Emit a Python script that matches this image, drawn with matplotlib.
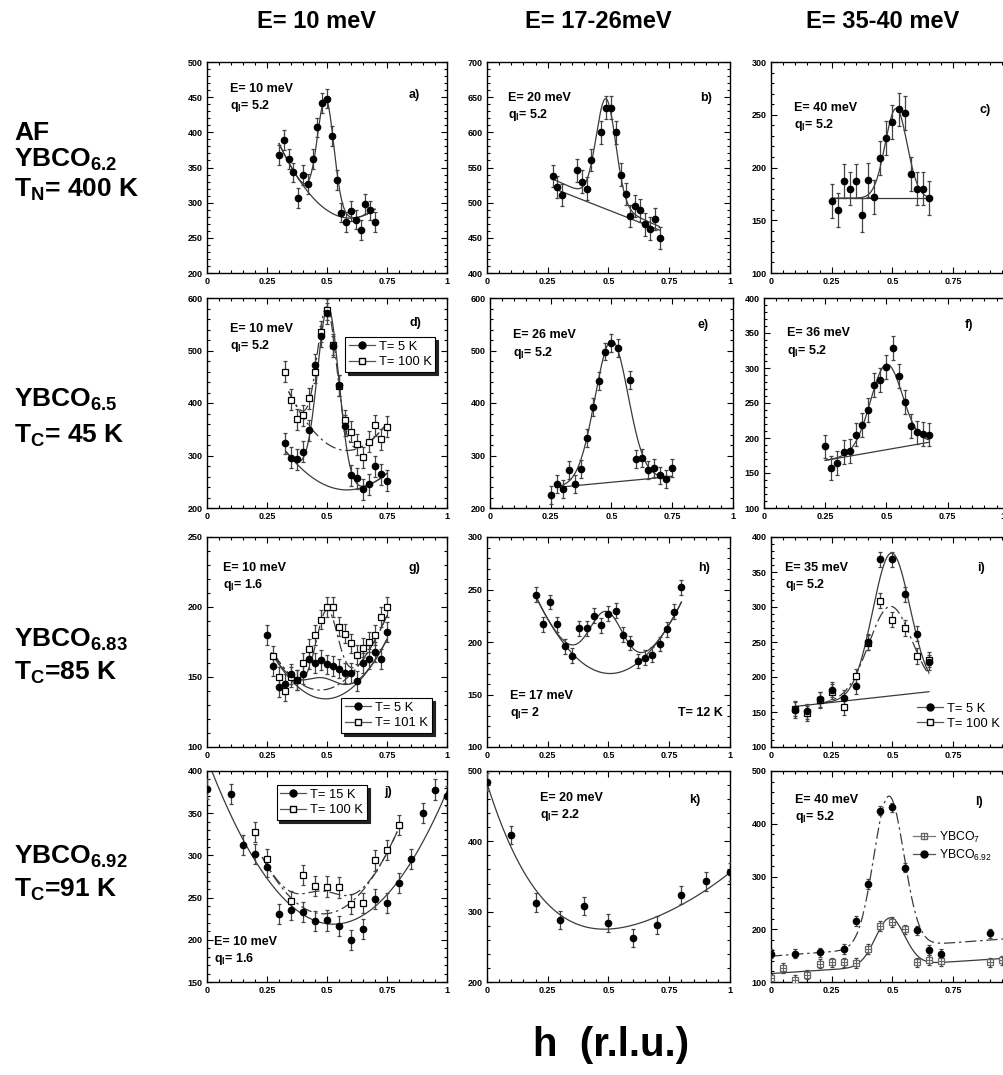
import numpy as np
import matplotlib.pyplot as plt
from matplotlib.lines import Line2D
from matplotlib.ticker import MultipleLocator, FixedLocator, FixedFormatter

plt.rcParams['font.family'] = ['Liberation Sans', 'DejaVu Sans']
plt.rcParams['mathtext.default'] = 'regular'

# ---------------- data ----------------
# a) AF YBCO6.2, E=10 meV
a_h = [0.30, 0.32, 0.34, 0.36, 0.38, 0.40, 0.42, 0.44, 0.46, 0.48, 0.50,
       0.52, 0.54, 0.56, 0.58, 0.60, 0.62, 0.64, 0.66, 0.68, 0.70]
a_I = [368, 389, 362, 343, 307, 339, 327, 362, 407, 442, 448,
       395, 332, 286, 273, 288, 276, 261, 298, 289, 273]
a_err = 14
a_bg = ([0.30, 0.41, 0.60], [384, 320, 278])
a_peak = (0.495, 158, 0.034)

# b) AF YBCO6.2, E=20 meV
b_h = [0.27, 0.29, 0.31, 0.37, 0.39, 0.41, 0.43, 0.47, 0.49, 0.51,
       0.53, 0.55, 0.57, 0.59, 0.61, 0.63, 0.65, 0.67, 0.69, 0.71]
b_I = [538, 522, 511, 546, 530, 520, 561, 600, 635, 635,
       600, 540, 512, 481, 495, 489, 469, 463, 477, 450]
b_err = 16
b_fitbase = ([0.28, 0.71], [532, 466])
b_bg = ([0.29, 0.71], [518, 461])
b_peak = (0.49, 148, 0.04)

# c) AF YBCO6.2, E=40 meV
c_h = [0.25, 0.275, 0.30, 0.325, 0.35, 0.375, 0.40, 0.425, 0.45,
       0.475, 0.50, 0.525, 0.55, 0.575, 0.60, 0.625, 0.65]
c_I = [168, 160, 187, 180, 187, 155, 188, 172, 209,
       228, 243, 255, 252, 194, 180, 180, 171]
c_err = 16
c_bg = ([0.25, 0.65], [171, 171])
c_peak = (0.515, 85, 0.045)

# d) YBCO6.5, E=10 meV, T=5 K and T=100 K
d_h = [0.325, 0.35, 0.375, 0.40, 0.425, 0.45, 0.475, 0.50, 0.525,
       0.55, 0.575, 0.60, 0.625, 0.65, 0.675, 0.70, 0.725, 0.75]
d_I5 = [323, 296, 293, 307, 348, 473, 527, 571, 508,
        434, 357, 262, 257, 236, 245, 280, 264, 252]
d_I100 = [460, 406, 369, 377, 409, 459, 536, 578, 511,
          433, 367, 345, 321, 297, 326, 358, 331, 355]
d_err = 20
d_bg5 = ([0.33, 0.62, 0.75], [307, 236, 266])
d_peak5 = (0.505, 341, 0.045)
d_bg100 = ([0.342, 0.568, 0.733], [420, 310, 352])
d_peak100 = (0.50, 260, 0.04)

# e) YBCO6.5, E=26 meV
e_h = [0.25, 0.275, 0.30, 0.325, 0.35, 0.375, 0.40, 0.425, 0.45, 0.475,
       0.50, 0.525, 0.575, 0.60, 0.625, 0.65, 0.675, 0.70, 0.725, 0.75]
e_I = [225, 246, 237, 273, 246, 274, 333, 392, 442, 498,
       514, 505, 444, 294, 296, 272, 276, 262, 255, 277]
e_err = 17
e_bg = ([0.27, 0.75], [239, 260])
e_peak = (0.50, 270, 0.068)

# f) YBCO6.5, E=36 meV
f_h = [0.25, 0.275, 0.30, 0.325, 0.35, 0.375, 0.40, 0.425, 0.45,
       0.475, 0.50, 0.525, 0.55, 0.575, 0.60, 0.625, 0.65, 0.675]
f_I = [188, 157, 164, 180, 182, 205, 219, 240, 276,
       283, 302, 329, 289, 252, 217, 208, 206, 205]
f_err = 17
f_bg = ([0.25, 0.675], [168, 194])
f_peak = (0.50, 122, 0.065)

# g) YBCO6.83, E=10 meV, T=5 K and T=101 K
g_h5 = [0.25, 0.275, 0.30, 0.325, 0.35, 0.375, 0.40, 0.425, 0.45, 0.475, 0.50,
        0.525, 0.55, 0.575, 0.60, 0.625, 0.65, 0.675, 0.70, 0.725, 0.75]
g_I5 = [180, 158, 143, 145, 152, 148, 152, 163, 160, 162, 159,
        158, 156, 153, 153, 147, 160, 163, 168, 163, 182]
g_h101 = [0.275, 0.30, 0.325, 0.35, 0.375, 0.40, 0.425, 0.45, 0.475, 0.50,
          0.525, 0.55, 0.575, 0.60, 0.625, 0.65, 0.675, 0.70, 0.725, 0.75]
g_I101 = [165, 150, 140, 150, 148, 160, 170, 180, 191, 200,
          200, 186, 181, 174, 166, 171, 175, 180, 193, 200]
g_err = 7
g_bg5 = ([0.27, 0.48, 0.75], [167, 134.5, 177])
g_peak5 = (0.48, 15, 0.07)
g_bg101 = ([0.28, 0.45, 0.72], [166, 141, 183])
g_peak101 = (0.50, 57, 0.045)

# h) YBCO6.83, E=17 meV
h_h = [0.20, 0.23, 0.26, 0.29, 0.32, 0.35, 0.38, 0.41, 0.44, 0.47, 0.50,
       0.53, 0.56, 0.59, 0.62, 0.65, 0.68, 0.71, 0.74, 0.77, 0.80]
h_I = [245, 217, 238, 217, 196, 187, 213, 213, 225, 216, 227,
       230, 207, 199, 182, 185, 188, 198, 212, 229, 252]
h_err = 7
h_bg = ([0.20, 0.50, 0.80], [244, 170, 238])
h_peak = (0.49, 59, 0.07)

# i) YBCO6.83, E=35 meV, T=5 K and T=100 K
i_h = [0.10, 0.15, 0.20, 0.25, 0.30, 0.35, 0.40, 0.45, 0.50, 0.55, 0.60, 0.65]
i_I5 = [153, 151, 168, 182, 170, 187, 250, 368, 368, 318, 262, 221]
i_I100 = [155, 148, 167, 179, 157, 201, 249, 309, 282, 270, 230, 225]
i_err = 11
i_bg = ([0.10, 0.65], [158, 179])
i_peak5 = (0.495, 204, 0.077)
i_peak100 = (0.49, 128, 0.088)

# j) YBCO6.92, E=10 meV, T=15 K and T=100 K
j_h15 = [0.0, 0.10, 0.15, 0.20, 0.25, 0.30, 0.35, 0.40, 0.45, 0.50,
         0.55, 0.60, 0.65, 0.70, 0.75, 0.80, 0.85, 0.90, 0.95, 1.00]
j_I15 = [379, 373, 312, 302, 286, 231, 235, 233, 222, 223,
         216, 200, 213, 248, 244, 267, 296, 350, 378, 370]
j_h100 = [0.20, 0.25, 0.35, 0.40, 0.45, 0.50, 0.55, 0.60, 0.65, 0.70, 0.75, 0.80]
j_I100 = [328, 296, 246, 277, 264, 263, 262, 242, 244, 294, 306, 336]
j_err = 12
j_fit15 = ([0.02, 0.50, 1.00], [400, 219, 376])
j_bg100 = ([0.23, 0.50, 0.80], [298, 231, 333])
j_peak100 = (0.48, 27, 0.08)

# k) YBCO6.92, E=20 meV
k_h = [0.0, 0.1, 0.2, 0.3, 0.4, 0.5, 0.6, 0.7, 0.8, 0.9, 1.0]
k_I = [484, 409, 313, 288, 308, 284, 263, 281, 324, 343, 356]
k_err = 13
k_fit = ([0.0, 0.1, 0.2, 0.3, 0.5, 0.7, 0.9, 1.0],
         [482, 393, 330, 295, 276, 293, 330, 356])

# l) E=40 meV, YBCO6.92 and YBCO7
l_h692 = [0.0, 0.10, 0.20, 0.30, 0.35, 0.40, 0.45, 0.50, 0.55, 0.60, 0.65, 0.70, 0.90]
l_I692 = [154, 154, 156, 163, 216, 286, 425, 431, 317, 198, 161, 154, 192]
l_h7 = [0.0, 0.05, 0.10, 0.15, 0.20, 0.25, 0.30, 0.35, 0.40, 0.45, 0.50,
        0.55, 0.60, 0.65, 0.70, 0.90, 0.95]
l_I7 = [107, 127, 104, 114, 135, 137, 137, 136, 163, 206, 214,
        200, 137, 142, 139, 137, 141]
l_err = 9
l_bg692 = ([0.0, 1.0], [149, 183])
l_peak692 = (0.485, 287, 0.062)
l_bg7 = ([0.0, 1.0], [116, 146])
l_peak7 = (0.49, 91, 0.06)

col_titles = ['E= 10 meV', 'E= 17-26meV', 'E= 35-40 meV']
xtick_labels = ['0', '0.25', '0.5', '0.75', '1']

# ---------------- helpers ----------------
W, H = 1004, 1075
DASHDOT = (0, (9, 3, 2, 3))
LINE_C = '#3a3a3a'


def pos(left, top, width, height):
    return [left / W, 1 - (top + height) / H, width / W, height / H]


def background(knots, h):
    kh, kI = knots
    return np.polyval(np.polyfit(kh, kI, len(kh) - 1), h)


def fit_curve(ax, knots, peak, h0, h1, ls='-'):
    h = np.linspace(h0, h1, 200)
    y = background(knots, h)
    if peak is not None:
        c, amp, sig = peak
        y = y + amp * np.exp(-(h - c) ** 2 / (2 * sig ** 2))
    ax.plot(h, y, color=LINE_C, lw=0.9, ls=ls, zorder=2)


def points(ax, h, I, err, marker='o', face='k', edge='k', ms=4.6):
    ax.errorbar(h, I, yerr=err, fmt=marker, ms=ms, mfc=face, mec=edge, mew=0.9,
                ecolor='#444444', elinewidth=0.9, capsize=1.5, capthick=0.8,
                zorder=3)


def setup(ax, ylim, ymaj, last_label=True):
    ax.set_xlim(0, 1)
    ax.set_ylim(*ylim)
    labels = list(xtick_labels)
    if not last_label:
        labels[-1] = ''
    ax.xaxis.set_major_locator(FixedLocator([0, 0.25, 0.5, 0.75, 1]))
    ax.xaxis.set_major_formatter(FixedFormatter(labels))
    ax.xaxis.set_minor_locator(MultipleLocator(0.05))
    ax.yaxis.set_major_locator(MultipleLocator(ymaj))
    ax.yaxis.set_minor_locator(MultipleLocator(ymaj / 5))
    ax.tick_params(which='both', direction='in', top=True, right=True,
                   labelsize=6.5, width=0.8, pad=3)
    ax.tick_params(which='major', length=4)
    ax.tick_params(which='minor', length=2)
    for lab in ax.get_xticklabels() + ax.get_yticklabels():
        lab.set_fontweight('bold')
    for s in ax.spines.values():
        s.set_linewidth(1.0)


def annotate(ax, x, y, E, q, tag, tx, ty):
    ax.text(x, y, E, transform=ax.transAxes, fontsize=9, fontweight='bold', va='top')
    ax.text(x, y - 0.072, 'q$_l$= ' + q, transform=ax.transAxes, fontsize=9,
            fontweight='bold', va='top')
    ax.text(tx, ty, tag, transform=ax.transAxes, fontsize=9, fontweight='bold', va='top')


def legend(ax, handles, labels, anchor, frame=True, size=9.3, hlen=2.0):
    leg = ax.legend(handles, labels, loc='upper left', bbox_to_anchor=anchor,
                    fontsize=size, frameon=frame, fancybox=False, handlelength=hlen,
                    handletextpad=0.3, borderpad=0.3, labelspacing=0.25,
                    borderaxespad=0,
                    shadow={'color': '#222222', 'alpha': 1} if frame else False)
    if frame:
        leg.get_frame().set_edgecolor('k')
        leg.get_frame().set_linewidth(0.8)
    return leg


def h_closed(c='k'):
    return Line2D([], [], color='#555555', lw=0.9, marker='o', ms=5, mfc=c, mec=c)


def h_open():
    return Line2D([], [], color='#555555', lw=0.9, marker='s', ms=5, mfc='w', mec='k')


# ---------------- figure ----------------
fig = plt.figure(figsize=(W / 100, H / 100), dpi=100)

tops = [62, 298, 537, 771]
heights = [211, 210, 210, 211]
lefts = [[207, 487, 771], [207, 490, 764], [207, 487, 771], [207, 487, 771]]
widths = [[240, 243, 243], [240, 243, 245], [240, 243, 243], [240, 243, 243]]
axes = [[fig.add_axes(pos(lefts[r][c], tops[r], widths[r][c], heights[r]))
         for c in range(3)] for r in range(4)]

# a)
ax = axes[0][0]
setup(ax, (200, 500), 50)
fit_curve(ax, a_bg, None, 0.30, 0.70)
fit_curve(ax, a_bg, a_peak, 0.30, 0.70)
points(ax, a_h, a_I, a_err)
annotate(ax, 0.096, 0.90, 'E= 10 meV', '5.2', 'a)', 0.84, 0.87)

# b)
ax = axes[0][1]
setup(ax, (400, 700), 50)
fit_curve(ax, b_bg, None, 0.29, 0.71)
fit_curve(ax, b_fitbase, b_peak, 0.28, 0.71)
points(ax, b_h, b_I, b_err)
annotate(ax, 0.086, 0.86, 'E= 20 meV', '5.2', 'b)', 0.876, 0.86)

# c)
ax = axes[0][2]
setup(ax, (100, 300), 50, last_label=False)
fit_curve(ax, c_bg, None, 0.25, 0.65)
fit_curve(ax, c_bg, c_peak, 0.25, 0.65)
points(ax, c_h, c_I, c_err)
annotate(ax, 0.095, 0.81, 'E= 40 meV', '5.2', 'c)', 0.86, 0.80)

# d)
ax = axes[1][0]
setup(ax, (200, 600), 100)
fit_curve(ax, d_bg5, None, 0.33, 0.75)
fit_curve(ax, d_bg5, d_peak5, 0.33, 0.75)
fit_curve(ax, d_bg100, None, 0.34, 0.74, ls=DASHDOT)
fit_curve(ax, d_bg100, d_peak100, 0.34, 0.74, ls=DASHDOT)
points(ax, d_h, d_I100, d_err, marker='s', face='w', ms=5)
points(ax, d_h, d_I5, d_err)
annotate(ax, 0.096, 0.88, 'E= 10 meV', '5.2', 'd)', 0.845, 0.91)
legend(ax, [h_closed(), h_open()], ['T= 5 K', 'T= 100 K'], (0.575, 0.814))

# e)
ax = axes[1][1]
setup(ax, (200, 600), 100)
fit_curve(ax, e_bg, None, 0.27, 0.75)
fit_curve(ax, e_bg, e_peak, 0.27, 0.75)
points(ax, e_h, e_I, e_err)
annotate(ax, 0.095, 0.85, 'E= 26 meV', '5.2', 'e)', 0.855, 0.90)

# f)
ax = axes[1][2]
setup(ax, (100, 400), 50, last_label=False)
fit_curve(ax, f_bg, None, 0.25, 0.675)
fit_curve(ax, f_bg, f_peak, 0.25, 0.675)
points(ax, f_h, f_I, f_err)
annotate(ax, 0.095, 0.86, 'E= 36 meV', '5.2', 'f)', 0.82, 0.90)
ax.text(0.985, -0.018, '1', transform=ax.transAxes, fontsize=6.5,
        fontweight='bold', ha='right', va='top')

# g)
ax = axes[2][0]
setup(ax, (100, 250), 50)
fit_curve(ax, g_bg5, None, 0.27, 0.75)
fit_curve(ax, g_bg5, g_peak5, 0.27, 0.75)
fit_curve(ax, g_bg101, None, 0.28, 0.75, ls=DASHDOT)
fit_curve(ax, g_bg101, g_peak101, 0.28, 0.75, ls=DASHDOT)
points(ax, g_h101, g_I101, g_err, marker='s', face='w', ms=5)
points(ax, g_h5, g_I5, g_err)
annotate(ax, 0.067, 0.88, 'E= 10 meV', '1.6', 'g)', 0.84, 0.88)
legend(ax, [h_closed(), h_open()], ['T= 5 K', 'T= 101 K'], (0.56, 0.233))

# h)
ax = axes[2][1]
setup(ax, (100, 300), 50)
fit_curve(ax, h_bg, None, 0.20, 0.80)
fit_curve(ax, h_bg, h_peak, 0.20, 0.80)
points(ax, h_h, h_I, h_err)
annotate(ax, 0.095, 0.27, 'E= 17 meV', '2', 'h)', 0.87, 0.88)
ax.text(0.786, 0.19, 'T= 12 K', transform=ax.transAxes, fontsize=9,
        fontweight='bold', va='top')

# i)
ax = axes[2][2]
setup(ax, (100, 400), 50, last_label=False)
fit_curve(ax, i_bg, None, 0.10, 0.65)
fit_curve(ax, i_bg, i_peak5, 0.20, 0.65)
fit_curve(ax, i_bg, i_peak100, 0.20, 0.65, ls=DASHDOT)
points(ax, i_h, i_I100, i_err, marker='s', face='w', ms=5)
points(ax, i_h, i_I5, i_err)
annotate(ax, 0.058, 0.88, 'E= 35 meV', '5.2', 'i)', 0.85, 0.88)
legend(ax, [h_closed(), h_open()], ['T= 5 K', 'T= 100 K'], (0.585, 0.23), frame=False)

# j)
ax = axes[3][0]
setup(ax, (150, 400), 50)
fit_curve(ax, j_fit15, None, 0.0, 1.0)
fit_curve(ax, j_bg100, None, 0.23, 0.80, ls=DASHDOT)
fit_curve(ax, j_bg100, j_peak100, 0.23, 0.80, ls=DASHDOT)
points(ax, j_h100, j_I100, j_err, marker='s', face='w', ms=5)
points(ax, j_h15, j_I15, j_err)
annotate(ax, 0.03, 0.22, 'E= 10 meV', '1.6', 'j)', 0.74, 0.93)
legend(ax, [h_closed(), h_open()], ['T= 15 K', 'T= 100 K'], (0.29, 0.934))

# k)
ax = axes[3][1]
setup(ax, (200, 500), 100)
hk = np.linspace(0, 1, 200)
ax.plot(hk, np.polyval(np.polyfit(*k_fit, 4), hk), color=LINE_C, lw=0.9, zorder=2)
points(ax, k_h, k_I, k_err)
annotate(ax, 0.218, 0.90, 'E= 20 meV', '2.2', 'k)', 0.83, 0.89)

# l)
ax = axes[3][2]
setup(ax, (100, 500), 100, last_label=False)
fit_curve(ax, l_bg7, l_peak7, 0.0, 1.0)
fit_curve(ax, l_bg692, l_peak692, 0.0, 1.0, ls=DASHDOT)
points(ax, l_h7, l_I7, l_err, marker='s', face='w', edge='#666666', ms=5)
ax.plot(l_h7, l_I7, ls='none', marker='+', ms=5, mec='#666666', mew=0.8, zorder=4)
points(ax, l_h692, l_I692, l_err)
sq = Line2D([], [], color='#777777', lw=0.9, marker='s', ms=5, mfc='w', mec='#666666')
pl = Line2D([], [], ls='none', marker='+', ms=5, mec='#666666', mew=0.8)
legend(ax, [(sq, pl), h_closed()], ['YBCO$_7$', 'YBCO$_{6.92}$'], (0.57, 0.74),
       frame=False, size=8.8, hlen=1.8)
annotate(ax, 0.10, 0.89, 'E= 40 meV', '5.2', 'l)', 0.84, 0.88)

# column titles, row labels, x label
for c, t in enumerate(col_titles):
    x = (lefts[0][c] + widths[0][c] / 2 - 10) / W
    fig.text(x, 1 - 22 / H, t, fontsize=17, fontweight='bold', ha='center', va='center')

row_labels = [
    ['AF', 'YBCO$_{6.2}$', 'T$_N$= 400 K'],
    ['YBCO$_{6.5}$', 'T$_C$= 45 K'],
    ['YBCO$_{6.83}$', 'T$_C$=85 K'],
    ['YBCO$_{6.92}$', 'T$_C$=91 K'],
]
row_y = [[133, 160, 190], [400, 436], [640, 673], [857, 890]]
for labs, ys in zip(row_labels, row_y):
    for lab, y in zip(labs, ys):
        fig.text(14 / W, 1 - y / H, lab, fontsize=19, fontweight='bold',
                 ha='left', va='center')

fig.text(611 / W, 1 - 1045 / H, 'h  (r.l.u.)', fontsize=29, fontweight='bold',
         ha='center', va='center')

fig.savefig('out.png', dpi=100)
